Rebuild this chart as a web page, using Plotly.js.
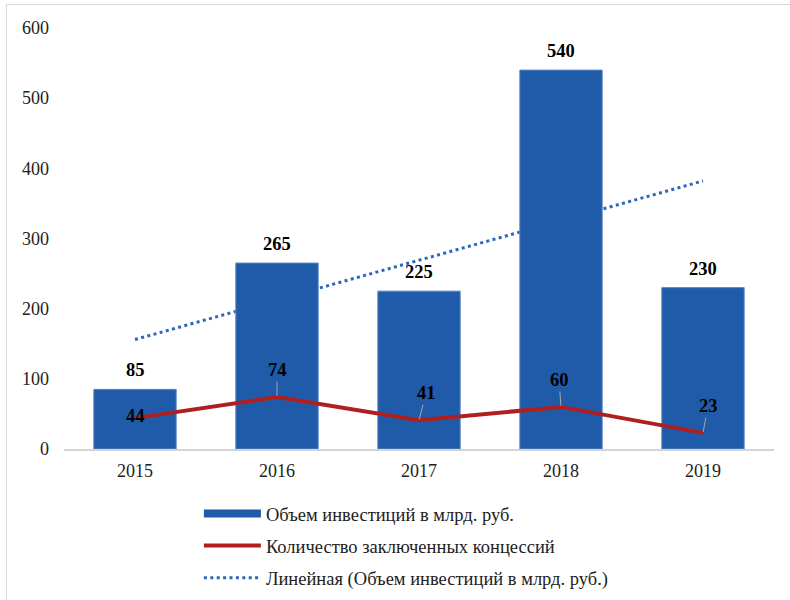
<!DOCTYPE html>
<html>
<head>
<meta charset="utf-8">
<script src="https://cdn.plot.ly/plotly-3.0.1.min.js"></script>
<style>
  body { margin: 0; background: #fff; }
  #chart { width: 790px; height: 600px; }
  #frameL { position: absolute; left: 6px; top: 4px; width: 1px; height: 600px; background: #d9d9d9; pointer-events: none; }
  #frameT { position: absolute; left: 6px; top: 4px; width: 790px; height: 1px; background: #d9d9d9; pointer-events: none; }
</style>
</head>
<body>
<div id="chart"></div>
<div id="frameL"></div>
<div id="frameT"></div>
<script>
// ---- data ----
var years = ['2015', '2016', '2017', '2018', '2019'];
var investment = [85, 265, 225, 540, 230];      // Объем инвестиций в млрд. руб.
var concessions = [44, 74, 41, 60, 23];         // Количество заключенных концессий
var yTicks = [0, 100, 200, 300, 400, 500, 600];

var nameInv = 'Объем инвестиций в млрд. руб.';
var nameCon = 'Количество заключенных концессий';
var nameTrend = 'Линейная (Объем инвестиций в млрд. руб.)';

// linear trendline (least squares over the investment series, as the source chart's "Линейная" trendline)
var n = investment.length, mx = (n - 1) / 2, my = investment.reduce(function (a, b) { return a + b; }, 0) / n;
var sxy = 0, sxx = 0;
investment.forEach(function (v, i) { sxy += (i - mx) * (v - my); sxx += (i - mx) * (i - mx); });
var slope = sxy / sxx;
var trend = investment.map(function (v, i) { return my + slope * (i - mx); });

var FONT = 'Liberation Serif, Times New Roman, serif';
var BLUE = '#1f5ba8';
var RED = '#b01f1f';
var DOT = '#2a67bd';
var LABEL_FONT = { family: FONT, size: 18.5, color: '#000', weight: 'bold' };

var traces = [
  { // trend on the base subplot so it sits behind the bars
    type: 'scatter', mode: 'lines', x: years, y: trend, xaxis: 'x', yaxis: 'y',
    name: nameTrend, legendgroup: 'c', legendrank: 3,
    line: { color: DOT, width: 3, dash: '3px,3.4px' }, hoverinfo: 'skip'
  },
  {
    type: 'bar', x: years, y: investment, xaxis: 'x', yaxis: 'y2',
    name: nameInv, showlegend: false,
    marker: { color: BLUE, line: { color: '#5b88c6', width: 1 } }
  },
  { // legend entry for the bars (drawn as a thick line like the source)
    type: 'scatter', mode: 'lines', x: [years[0]], y: [null], xaxis: 'x', yaxis: 'y2',
    name: nameInv, legendgroup: 'a', legendrank: 1,
    line: { color: BLUE, width: 8 }
  },
  {
    type: 'scatter', mode: 'lines', x: years, y: concessions, xaxis: 'x', yaxis: 'y2',
    name: nameCon, legendgroup: 'b', legendrank: 2,
    line: { color: RED, width: 4 }
  }
];

// bar value labels
var annotations = investment.map(function (v, i) {
  return {
    x: i, y: v, xref: 'x', yref: 'y', text: String(v), showarrow: false,
    yanchor: 'bottom', yshift: 7, font: LABEL_FONT
  };
});

// line value labels with short leader lines
var labelOffsets = [[0, 0], [0, -27], [7, -27], [-2, -27], [5, -27]];
concessions.forEach(function (v, i) {
  var off = labelOffsets[i];
  var noArrow = off[0] === 0 && off[1] === 0;
  annotations.push({
    x: i, y: v, xref: 'x', yref: 'y',
    text: String(v), showarrow: !noArrow,
    ax: off[0], ay: off[1], arrowhead: 0, arrowwidth: 1, arrowcolor: '#a6a6a6', standoff: 1,
    font: LABEL_FONT,
    yshift: noArrow ? 2 : 0
  });
});

var layout = {
  width: 790, height: 600,
  margin: { l: 64, r: 16, t: 28, b: 151 },
  paper_bgcolor: '#fff', plot_bgcolor: 'rgba(0,0,0,0)',
  font: { family: FONT, size: 18, color: '#222' },
  bargap: 0.42,
  xaxis: {
    type: 'category', categoryarray: years, categoryorder: 'array', range: [-0.5, 4.5],
    showgrid: false, zeroline: false,
    showline: true, linecolor: '#d4d4d4', linewidth: 1.5,
    ticks: '', ticklabelstandoff: 5,
    tickfont: { family: FONT, size: 18, color: '#222' }
  },
  yaxis: {
    range: [0, 600], tickvals: yTicks, showgrid: false, zeroline: false, showline: false,
    ticks: '', ticklabelstandoff: 14,
    tickfont: { family: FONT, size: 18, color: '#222' }
  },
  yaxis2: {
    range: [0, 600], overlaying: 'y', side: 'left', visible: false,
    showgrid: false, zeroline: false
  },
  showlegend: true,
  legend: {
    orientation: 'v', xref: 'paper', x: 0.19, xanchor: 'left',
    yref: 'container', y: 0.005, yanchor: 'bottom',
    traceorder: 'grouped', tracegroupgap: 5, itemwidth: 57,
    font: { family: FONT, size: 18.5, color: '#222' }, bgcolor: 'rgba(0,0,0,0)'
  },
  annotations: annotations
};

Plotly.newPlot('chart', traces, layout, { displayModeBar: false, staticPlot: true });
</script>
</body>
</html>
